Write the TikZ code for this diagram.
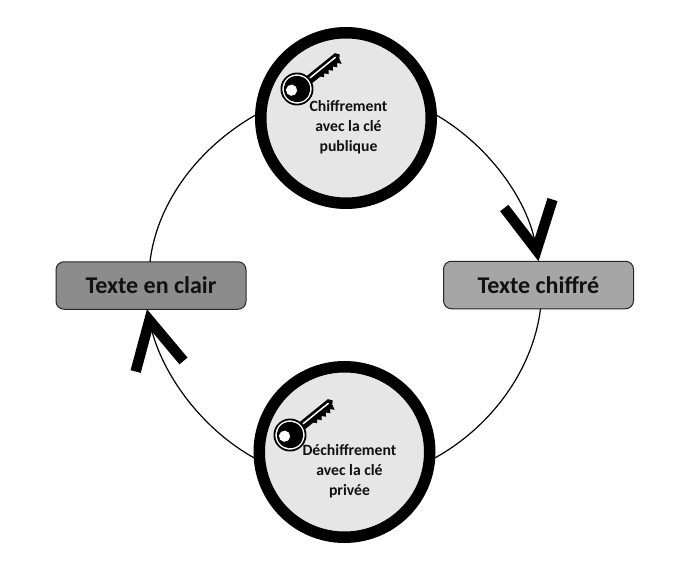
\documentclass[tikz,border=0pt]{standalone}
\usepackage{fontspec}
\setmainfont{Carlito}
\usetikzlibrary{arrows.meta}
\definecolor{clairfill}{HTML}{8C8C8C}
\definecolor{chiffill}{HTML}{A6A6A6}
\definecolor{discfill}{HTML}{E6E6E6}
\definecolor{inkc}{HTML}{111111}
\tikzset{
  x=1pt,y=-1pt,
  stepdisc/.style={circle,draw=black,fill=discfill,line width=11.5pt,minimum size=170.5pt,inner sep=0pt,outer sep=0pt},
  textbox/.style={rectangle,rounded corners=8pt,draw=black!85,line width=1pt,minimum width=190pt,minimum height=47.5pt,inner sep=0pt,outer sep=0pt,font=\fontsize{24}{26}\selectfont\bfseries,text=inkc},
  disclabel/.style={align=center,inner sep=0pt,font=\fontsize{15.7}{20}\selectfont\bfseries,text=inkc},
  link/.style={draw=black,line width=1.2pt},
  bigtip/.style={-{Straight Barb[length=47pt,width=49pt,line width=10.5pt]}},
  pics/keyicon/.style={code={
    \fill[black] (14,-4) -- (52,-4) -- (55,0) -- (52,3) -- (50.5,8.5) -- (47.5,5) -- (45,8.5) -- (42,5) -- (39.5,8.5) -- (36.5,5) -- (34,8.5) -- (31,5) -- (28.5,8) -- (26,5) -- (14,5) -- cycle;
    \draw[white,line width=1.5pt] (17,-0.5) -- (50,-0.5);
    \fill[black] (0,0) circle[radius=16.5];
    \fill[white] (0,0) circle[radius=14.6];
    \fill[black] (0,0) circle[radius=13.2];
    \fill[white] (-5,-2.5) circle[radius=5.6];
  }}
}
\begin{document}
\begin{tikzpicture}
\useasboundingbox (0,0) rectangle (697,578);
\node[stepdisc] (pub) at (346,118) {};
\node[stepdisc] (priv) at (344.5,452) {};
\node[textbox,fill=clairfill] (clair) at (151,285.5) {Texte en clair};
\node[textbox,fill=chiffill] (chif) at (538.5,285) {Texte chiffré};
\coordinate (clairtip) at ([xshift=-4pt]clair.south);
\coordinate (clairout) at ([xshift=-1pt]clair.north);
\coordinate (chifout) at ([xshift=2pt]chif.south);
\draw[link,bigtip] (pub.4) .. controls +(55.6,30.1) and +(-11,-62.5) .. (chif.north);
\draw[link] (chifout) .. controls +(-8,64.4) and +(57.8,-29.6) .. (priv.-6);
\draw[link,bigtip] (priv.186) .. controls +(-57.7,-29.8) and +(14,63.5) .. (clairtip);
\draw[link] (clairout) .. controls +(7.5,-63.8) and +(-56.6,30.2) .. (pub.176);
\pic[rotate=39] at (297,89) {keyicon};
\pic[rotate=39] at (290,435) {keyicon};
\node[disclabel] (pubtext) at (348.5,127) {Chiffrement\\avec la clé\\publique};
\node[disclabel] (privtext) at (349.5,471) {Déchiffrement\\avec la clé\\privée};
\end{tikzpicture}
\end{document}
